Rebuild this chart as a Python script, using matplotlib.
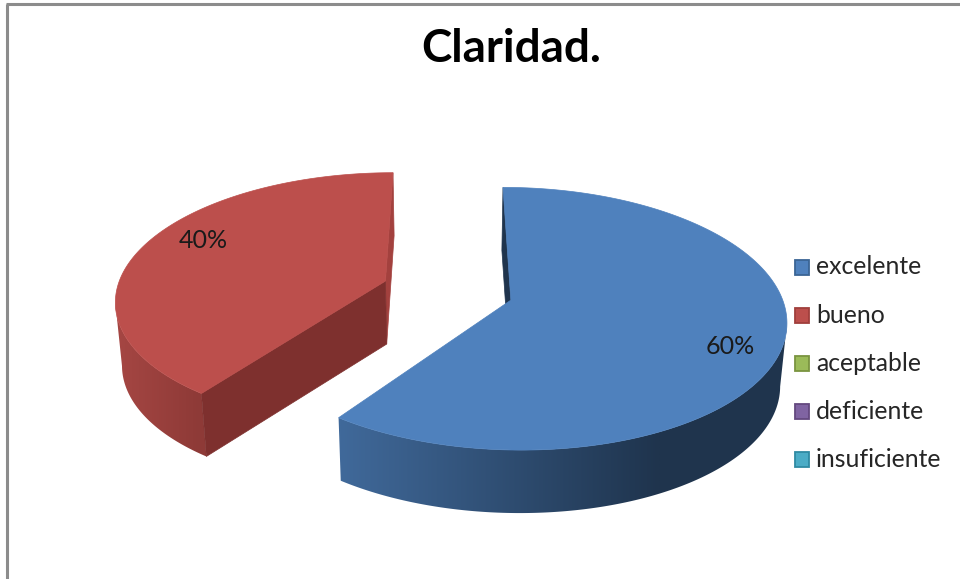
import numpy as np
import matplotlib
matplotlib.use('Agg')
import matplotlib.pyplot as plt
from matplotlib.colors import LinearSegmentedColormap
from matplotlib.patches import Polygon, Rectangle

categorias = ['excelente', 'bueno', 'aceptable', 'deficiente', 'insuficiente']
valores = [60, 40, 0, 0, 0]
etiquetas = ['60%', '40%']
titulo = 'Claridad.'

cores = ['#4F81BD', '#BC4F4C', '#9BBB59', '#8064A2', '#4BACC6']
bordas = ['#3A6595', '#A03F3C', '#7A9440', '#64497F', '#2F8AA3']
pos_etiquetas = [(730, 346), (203, 240)]

# projecao do pie 3d, em pixels da imagem
X0, Y0 = 447.5, 290.5
RX, RY = 269, 126
K = -0.14
EXPLODE = 0.245
ALTURA = 63
ENCOLHE = 0.98


def projeta(u, v, baixo=False):
    s = -np.asarray(v)
    d = 1 + K * s
    x = X0 + RX * np.asarray(u) / d
    y = Y0 + RY * s / d
    if baixo:
        x = X0 + (x - X0) * ENCOLHE
        y = y + ALTURA
    return x, y


fig = plt.figure(figsize=(9.6, 5.79), dpi=100)
ax = fig.add_axes([0, 0, 1, 1])

# moldura
ax.plot([7, 7], [579, 4], color='#8C8C8C', lw=2.2, solid_capstyle='butt')
ax.plot([6, 960], [4, 4], color='#8C8C8C', lw=2.2, solid_capstyle='butt')

total = sum(valores)
ini = 0.0
fatias = []
for i, val in enumerate(valores):
    fim_ang = ini + 360.0 * val / total
    if val > 0:
        fatias.append((i, ini, fim_ang))
    ini = fim_ang

paredes = {0: ('#40699A', '#1F344D', 340, 660), 1: ('#A54643', '#8E3A37', 118, 200)}
cor_corte = {0: '#1F344D', 1: '#7E302E'}

for i, a0, a1 in fatias:
    meio = np.radians((a0 + a1) / 2)
    ou, ov = EXPLODE * np.sin(meio), EXPLODE * np.cos(meio)
    ang = np.radians(np.linspace(a0, a1, 361))
    u = ou + np.sin(ang)
    v = ov + np.cos(ang)
    xt, yt = projeta(u, v)
    xb, yb = projeta(u, v, baixo=True)
    xa, ya = projeta(ou, ov)
    xab, yab = projeta(ou, ov, baixo=True)

    # face de corte de tras (inicio na azul, fim na vermelha)
    k = 0 if i == 0 else -1
    cor_tras = '#A3413E' if i == 1 else cor_corte[i]
    ax.add_patch(Polygon([(xt[k], yt[k]), (xb[k], yb[k]), (xab, yab), (xa, ya)],
                         closed=True, fc=cor_tras, ec=cor_tras, lw=0.5))

    # parede externa com degrade, so do ponto extremo em x para a frente
    c1, c2, x1, x2 = paredes[i]
    if i == 0:
        vis = np.arange(len(ang)) >= np.argmax(xt)
    else:
        vis = np.arange(len(ang)) <= np.argmin(xt)
    parede = Polygon(list(zip(xt[vis], yt[vis])) + list(zip(xb[vis][::-1], yb[vis][::-1])),
                     closed=True, fc='none', ec='none')
    ax.add_patch(parede)
    cmap = LinearSegmentedColormap.from_list('parede', [c1, c2])
    topo, base = yt[vis].min() - 2, yb[vis].max() + 2
    grad = ax.imshow(np.linspace(0, 1, 256).reshape(1, -1), cmap=cmap, aspect='auto',
                     extent=(x1, x2, base, topo), zorder=1, interpolation='bilinear')
    grad.set_clip_path(parede)
    # fora do degrade a cor fica na ponta
    esq = ax.imshow(np.array([[0.0]]), cmap=cmap, vmin=0, vmax=1, aspect='auto',
                    extent=(x1 - 40, x1, base, topo), zorder=1)
    esq.set_clip_path(parede)
    dir_ = ax.imshow(np.array([[1.0]]), cmap=cmap, vmin=0, vmax=1, aspect='auto',
                     extent=(x2, x2 + 160, base, topo), zorder=1)
    dir_.set_clip_path(parede)

    # face de corte da frente (so a fatia vermelha mostra)
    if i == 1:
        ax.add_patch(Polygon([(xa, ya), (xt[0], yt[0]), (xb[0], yb[0]), (xab, yab)],
                             closed=True, fc=cor_corte[i], ec=cor_corte[i], lw=0.5, zorder=2))

    # tampo
    pts = [(xa, ya)] + list(zip(xt, yt))
    ax.add_patch(Polygon(pts, closed=True, fc=cores[i], ec=cores[i], lw=0.5, zorder=3))

for txt, (x, y) in zip(etiquetas, pos_etiquetas):
    ax.text(x, y, txt, ha='center', va='center', fontsize=18, family='Lato', color='#1a1a1a', zorder=5)

ax.text(511, 48.5, titulo, ha='center', va='center', fontsize=33, fontweight='bold',
        family='Lato', color='black')

# legenda
for k, nome in enumerate(categorias):
    yc = 267 + 48.2 * k
    ax.add_patch(Rectangle((795, yc - 7.5), 14, 15, fc=cores[k], ec=bordas[k], lw=1.3))
    ax.text(816, yc, nome, ha='left', va='center', fontsize=17.8, family='Lato', color='#262626')

ax.set_xlim(0, 960)
ax.set_ylim(579, 0)
ax.axis('off')

fig.savefig('out.png', dpi=100, facecolor='white')
